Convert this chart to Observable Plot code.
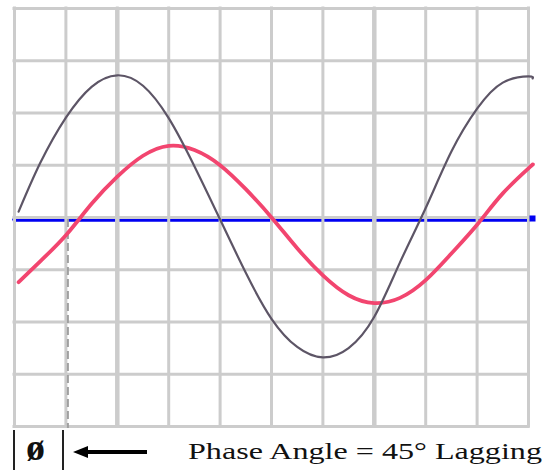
<!DOCTYPE html>
<html>
<head>
<meta charset="utf-8">
<script src="https://cdn.jsdelivr.net/npm/d3@7"></script>
<script src="https://cdn.jsdelivr.net/npm/@observablehq/plot@0.6"></script>
<style>
  html, body { margin: 0; padding: 0; background: #fff; }
  #chart svg { display: block; }
  #caption { position: relative; width: 548px; height: 40px; font-family: "Liberation Serif", "Times New Roman", Times, serif; color: #111; }
  #caption .bar { position: absolute; top: 0; width: 2px; height: 40px; background: #222; }
  #caption .phi { position: absolute; left: 26px; bottom: 1px; font-size: 38px; line-height: normal; font-weight: bold; }
  #caption .head { position: absolute; left: 73px; top: 16px; width: 0; height: 0; border-right: 15px solid #000; border-top: 6px solid transparent; border-bottom: 6px solid transparent; }
  #caption .shaft { position: absolute; left: 87px; top: 20px; width: 60px; height: 4px; background: #000; }
  #caption .label { position: absolute; left: 188px; top: 11px; font-size: 22.5px; line-height: 1; white-space: nowrap; transform-origin: 0 0; }
</style>
</head>
<body>
<div id="chart"></div>
<div id="caption">
  <div class="bar" style="left:13px"></div>
  <div class="bar" style="left:62px"></div>
  <div class="phi">ø</div>
  <div class="head"></div>
  <div class="shaft"></div>
  <div class="label" id="label"></div>
</div>
<script>
// Sample positions along the time axis (grid divisions; one cycle = 8 divisions)
const samples = [0.08, 0.5, 1, 1.5, 2, 2.5, 3, 3.5, 4, 4.5, 5, 5.5, 6, 6.5, 7, 7.5, 8, 8.5, 9, 9.5, 10, 10.08];
// Voltage (gray wave), in grid divisions
const voltage = [0.15, 1.08, 1.95, 2.54, 2.76, 2.56, 1.94, 1.02, 0.0, -1.02, -1.9, -2.44, -2.64, -2.46, -1.86, -0.82, 0.22, 1.3, 2.12, 2.62, 2.74, 2.7];
// Current (red wave), lagging
const current = [-1.2, -0.8, -0.3, 0.3, 0.82, 1.22, 1.41, 1.33, 1.04, 0.58, 0.04, -0.55, -1.07, -1.45, -1.6, -1.5, -1.16, -0.65, -0.1, 0.5, 0.98, 1.05];
// Zero reference line
const axisX = [0, 10];
// Grid
const gridX = [0, 1, 2, 3, 4, 5, 6, 7, 8, 9, 10];
const gridY = [-4, -3, -2, -1, 0, 1, 2, 3, 4];
const heavyGridX = [2, 7];
// Phase lag (45° = 1 division of 8)
const phaseLag = [1];
const captionText = "Phase Angle = 45° Lagging";

const vData = samples.map((x, i) => ({x, y: voltage[i]}));
const iData = samples.map((x, i) => ({x, y: current[i]}));
const zData = axisX.map(x => ({x, y: 0}));

const chart = Plot.plot({
  width: 548,
  height: 430,
  marginTop: 8,
  marginBottom: 4,
  marginLeft: 14,
  marginRight: 20,
  x: {domain: [0, 10], axis: null},
  y: {domain: [-4, 4], axis: null},
  style: {background: "#fff"},
  marks: [
    Plot.line(zData, {x: "x", y: "y", stroke: "#0000f2", strokeWidth: 4.5, dy: 2}),
    Plot.ruleX(gridX, {stroke: "#cccccc", strokeWidth: 3, strokeLinecap: "square"}),
    Plot.ruleX(heavyGridX, {stroke: "#cccccc", strokeWidth: 4.5}),
    Plot.ruleY(gridY, {stroke: "#cccccc", strokeWidth: 3, strokeLinecap: "square"}),
    Plot.dot(zData.slice(-1), {x: "x", y: "y", symbol: "square", r: 3.4, fill: "#0000f2", stroke: null, dx: 4, dy: 1}),
    Plot.ruleX(phaseLag, {y1: 0, y2: -4, dx: 2, dy: 2, stroke: "#a0a0a0", strokeWidth: 2, strokeDasharray: "8,4"}),
    Plot.line(iData, {x: "x", y: "y", stroke: "#f2456f", strokeWidth: 3.8, curve: "natural", dy: 2}),
    Plot.line(vData, {x: "x", y: "y", stroke: "#5d5566", strokeWidth: 2.2, curve: "natural", dy: 2})
  ]
});
document.getElementById("chart").append(chart);

const label = document.getElementById("label");
label.textContent = captionText;
function fit() {
  label.style.transform = "none";
  const w = label.getBoundingClientRect().width;
  if (w > 0) label.style.transform = `scaleX(${354 / w})`;
}
fit();
if (document.fonts && document.fonts.ready) document.fonts.ready.then(fit);
</script>
</body>
</html>
